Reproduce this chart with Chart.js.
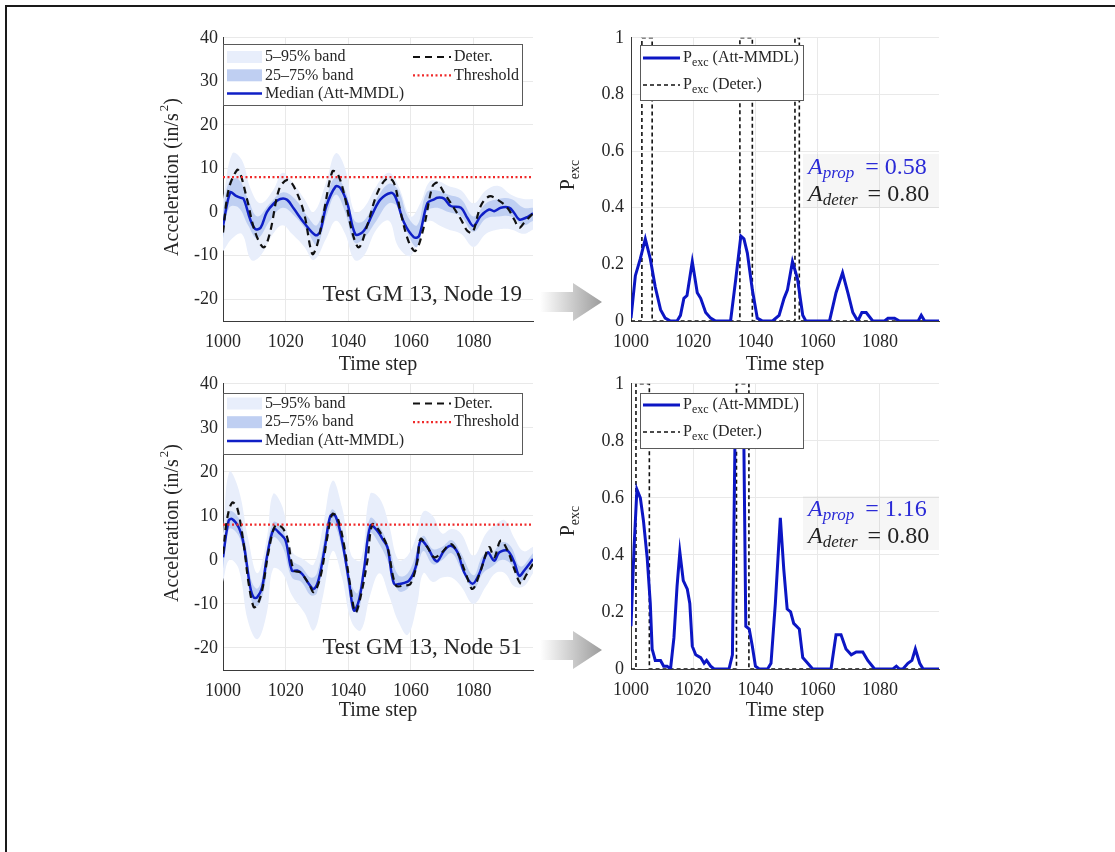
<!DOCTYPE html>
<html>
<head>
<meta charset="utf-8">
<script src="https://cdn.jsdelivr.net/npm/chart.js@4.4.0/dist/chart.umd.min.js"></script>
<style>
  body { margin: 0; background: #fff; width: 1115px; height: 852px; overflow: hidden; position: relative; }
  #frame { position: absolute; left: 5px; top: 5px; width: 1200px; height: 900px; border-left: 2px solid #1a1a1a; border-top: 2px solid #1a1a1a; }
  canvas { position: absolute; }
  svg.arrow { position: absolute; pointer-events: none; }
</style>
</head>
<body>
<div id="frame"></div>
<canvas id="tl" width="410" height="370" style="left:140px;top:22px"></canvas>
<canvas id="tr" width="400" height="370" style="left:555px;top:20px"></canvas>
<canvas id="bl" width="410" height="370" style="left:140px;top:368px"></canvas>
<canvas id="br" width="400" height="370" style="left:555px;top:366px"></canvas>
<svg class="arrow" style="left:535px;top:278px" width="75" height="50">
  <defs><linearGradient id="ag1" x1="0" x2="1"><stop offset="0" stop-color="#fff"/><stop offset="1" stop-color="#9c9c9c"/></linearGradient></defs>
  <polygon points="5,14 38,14 38,5 67,24 38,43 38,34 5,34" fill="url(#ag1)"/>
</svg>
<svg class="arrow" style="left:535px;top:626px" width="75" height="50">
  <defs><linearGradient id="ag2" x1="0" x2="1"><stop offset="0" stop-color="#fff"/><stop offset="1" stop-color="#9c9c9c"/></linearGradient></defs>
  <polygon points="5,14 38,14 38,5 67,24 38,43 38,34 5,34" fill="url(#ag2)"/>
</svg>
<script>
// ---- data ----
const thresholdX = [1000, 1099];
const thresholdY = [8, 8];

// Node 19 (top left)
const n19MedX = [1000,1002.3,1004,1005.5,1006.6,1008.7,1010.3,1012,1014,1016,1018.3,1020.5,1022.6,1025.8,1029.5,1031,1033,1036,1037.5,1039.7,1042.3,1045,1048,1050.3,1053.5,1055,1057.8,1061,1062.6,1065.3,1067.4,1068.5,1070.6,1072.7,1076,1078,1080,1082.3,1085,1086.6,1088.7,1091.4,1093,1094.6,1096.7,1099];
const n19Med  = [-3.2,4.5,3.8,3.3,3.0,-1.7,-3.9,-3.6,0,1.8,3,2.8,0.8,-2.4,-5.3,-4.5,1.4,5.9,5.5,2,-5.1,-4.3,0,2.9,4.4,3.6,-2.4,-5.8,-5.5,2.1,2.9,3.3,3.1,1.4,1,-1.3,-3.2,-0.9,0.6,0.2,1,1,-0.2,-1.7,-1.3,-0.3];
const n19DetX = [1000,1001.8,1004.5,1005.5,1007.7,1010.3,1013,1015,1017.9,1020.5,1022.6,1025.8,1028.5,1030,1032.2,1034.9,1036.5,1038.6,1041.3,1043.4,1046,1049.3,1052.5,1054.6,1056.7,1059.4,1061.5,1064.2,1066.9,1068.5,1070.6,1072.7,1076,1078,1079.7,1082.3,1085,1087.6,1090.8,1093,1094.6,1096.2,1099];
const n19Det  = [-4.7,5.2,9.7,8.9,2.9,-4.7,-8.1,-4.7,5.2,7.4,5.9,0,-9.6,-7.7,0,9.3,8.9,4.4,-4.7,-8.1,-3.2,4.4,7.8,6.7,0,-7,-8.9,-3.2,5.9,6.7,4.4,2.1,-1.7,-4.3,-4.7,1.4,3.6,2.9,1,-1.7,-3.6,-2.4,-0.3];
const n19B25X = [1000,1002,1005,1008,1011,1015,1019,1023,1027,1030,1033,1036,1039,1042,1045,1049,1053,1056,1059,1062,1065,1068,1072,1076,1080,1084,1088,1092,1096,1099];
const n19B25Hi = [0,7,7.5,3,-1,2,4.5,3,-1,-3,3.5,8,5,-2,-2,3,6.5,5,-1,-3,4.5,5,4,3,-1,2,3,3,1,1];
const n19B25Lo = [-6,1,1,-3,-6,-2,1,-1,-4.5,-7.5,-1,4,0,-7,-6,-2,2,1,-5,-8,0,1,0,-1,-4.5,-1.5,-1,-1,-3,-2];
const n19B5X  = [1000,1003,1006,1009,1012,1016,1019,1022,1026,1029,1033,1036,1039,1042,1045,1049,1053,1056,1060,1063,1066,1069,1072,1076,1080,1084,1088,1092,1096,1099];
const n19B5Hi = [3,13.5,12,5,2,5,9,7,3,0,7,13.5,10,0,1,6,9,6,-1,2,7,7,6,5,2,5,6,4,3,3];
const n19B5Lo = [-9,-6,-5,-11,-10,-5,-3,-5,-8,-11,-6,-2,-5,-11,-10,-4,-2,-8,-10,-4,-2,-3,-4,-5,-8,-5,-4,-4,-5,-4];

// Node 51 (bottom left)
const n51MedX = [1000,1001.8,1002.9,1005,1006.6,1008.7,1009.8,1010.9,1012.5,1014,1016.2,1018.3,1020,1022,1023.7,1025.3,1027.4,1029,1030.6,1032.7,1034.3,1035.9,1038,1040.2,1041.8,1043.4,1045,1047.1,1049.3,1050.9,1052.5,1054.6,1056.7,1059.4,1061.5,1063.1,1065.3,1067.4,1068.5,1070.6,1072.7,1074.9,1077,1079.7,1081.8,1084.5,1086.6,1088.2,1090.9,1093,1094.6,1096.2,1099];
const n51Med  = [0.6,8.9,9.3,7.4,3.6,-6.2,-8.5,-8.5,-6.2,0.6,7,5.9,4.4,-2.4,-2.4,-3.2,-5.4,-6.6,-4.3,3.6,10,10,4.4,-4.7,-11.5,-9.2,-2.4,7.8,6.6,4.8,2.9,-5.4,-5.4,-4.7,-1.7,4.4,2.9,0.2,-0.3,2.1,3.2,1.7,-2.8,-5.4,-3.2,1.7,-0.2,1.7,2.1,-0.5,-3.6,-2.4,0.2];
const n51DetX = [1000,1001.3,1002.9,1004.5,1006.6,1008.2,1009.8,1010.9,1012.5,1014.6,1016.7,1018.8,1020.5,1022.6,1024.7,1027.4,1029,1031.1,1033.3,1034.9,1036.5,1038.6,1040.7,1042.3,1043.9,1046.1,1047.7,1049.9,1052.5,1055.2,1057.8,1059.9,1062.1,1063.1,1065.3,1067.4,1069.5,1072.7,1074.9,1077.6,1079.7,1082.3,1085,1086.6,1088.7,1090.9,1093,1095.1,1096.7,1099];
const n51Det  = [1.4,9.3,13,11.9,3.6,-5.4,-10.7,-10.3,-6.9,2.1,7.8,7.4,5.1,-2.4,-2.8,-5.4,-7.3,-3.9,5.1,10.4,9.7,3.6,-6.2,-11.9,-8.5,-0.2,8.1,6.6,2.9,-5.8,-5.8,-5.4,-0.2,4.8,2.9,0.6,1.4,3.6,1.7,-3.2,-6.6,-2.4,2.9,0.6,4.4,2.1,-2,-5.4,-3.6,-0.9];
const n51B25X = [1000,1002,1005,1007,1009,1011,1013,1016,1019,1022,1025,1028,1030,1033,1035,1038,1041,1043,1045,1047,1050,1053,1056,1059,1062,1064,1067,1070,1073,1076,1080,1083,1086,1089,1092,1095,1099];
const n51B25Hi = [2.5,11,9.5,4.5,-4.5,-6.5,-2.5,8.5,7,0,-1.5,-4,-3,7,11.5,6.5,-5.5,-7.5,0,9.5,7.5,3,-3.5,-3,2,5.5,2.5,3,4.5,1.5,-3.5,1,1.5,4,3,-1.5,1.5];
const n51B25Lo = [-2,7,5.5,0,-9,-10.5,-7,5,3,-4,-5,-8,-7.5,3,8.5,2.5,-10,-12,-4.5,6,3.5,-1,-7,-6.5,-2,2,-1,0,1.5,-2,-6.5,-3,-1.5,0,-1,-5,-1];
const n51B5X  = [1000,1002,1005,1008,1011,1014,1016,1019,1022,1026,1029,1032,1035,1038,1041,1044,1047,1050,1053,1056,1059,1062,1064,1067,1070,1073,1076,1080,1084,1087,1090,1093,1096,1099];
const n51B5Hi = [6,20,16,5,-3,5,15,12,2,0,-1,8,18,12,1,0,15,14,8,0,1,6,11,10,6,7,6,1,6,8,9,5,2,3];
const n51B5Lo = [-5,0,-2,-14,-18,-12,-2,-3,-8,-12,-16,-8,2,-4,-14,-16,-8,-3,-8,-14,-17,-10,-3,-5,-4,-4,-6,-10,-6,-3,-3,-6,-6,-3];

// exceedance probability (right column)
const p19X = [1000,1001.4,1003,1004.6,1006.2,1007.8,1009.5,1011,1012.7,1014.8,1015.9,1017,1018,1019.7,1021.3,1022.4,1024,1025.6,1027.2,1032,1033.7,1035.3,1036.3,1037.4,1039,1040.6,1042.3,1045.5,1047.6,1049.2,1050.3,1051.9,1053.5,1055.2,1056.2,1063.8,1065.9,1068,1069.7,1071.3,1072.9,1074.2,1075.6,1077.7,1081.5,1082.6,1084.7,1086.3,1092.3,1093.3,1094.4,1099];
const p19  = [0.01,0.16,0.22,0.29,0.22,0.12,0.04,0.01,0,0,0.02,0.08,0.09,0.21,0.1,0.08,0.03,0.01,0,0,0.15,0.3,0.29,0.24,0.11,0.01,0,0,0.02,0.08,0.11,0.21,0.15,0.02,0,0,0.1,0.17,0.1,0.03,0,0.03,0.03,0,0,0.01,0.01,0,0,0.02,0,0];
const p19DetX = [1000,1003.5,1003.5,1006.8,1006.8,1035,1035,1039,1039,1052.7,1052.7,1054.1,1054.1,1099];
const p19Det  = [0,0,1,1,0,0,1,1,0,0,1,1,0,0];
const p51X = [1000,1001,1001.9,1003,1004,1005.2,1006.2,1006.8,1007.8,1009.5,1010.5,1011.6,1012.7,1013.8,1014.8,1015.7,1016.8,1018.1,1018.9,1019.7,1020.8,1022.4,1023.5,1024.3,1025.6,1026.7,1031.5,1032.6,1033.4,1034.4,1035.4,1036.3,1036.9,1038,1039,1040,1041.2,1043.9,1045,1046.4,1048,1049.1,1050.2,1051.3,1052.3,1054.1,1055.2,1056.8,1058.4,1064.3,1065.9,1067.5,1069.1,1070.8,1072.4,1074.5,1076.1,1078.3,1084.2,1085.3,1086.3,1087.4,1089,1090.3,1091.4,1092.8,1093.9,1099];
const p51  = [0.15,0.43,0.63,0.6,0.52,0.39,0.23,0.07,0.03,0.03,0.01,0.01,0,0.11,0.29,0.41,0.31,0.28,0.23,0.08,0.05,0.04,0.02,0.03,0.01,0,0,0.05,0.78,0.95,0.95,0.77,0.15,0.14,0.08,0.01,0,0,0.02,0.23,0.53,0.35,0.21,0.2,0.16,0.14,0.04,0.02,0,0,0.12,0.12,0.07,0.05,0.06,0.06,0.03,0,0,0.01,0,0,0.02,0.03,0.07,0.02,0,0];
const p51DetX = [1000,1001.6,1001.6,1005.9,1005.9,1033.9,1033.9,1037.9,1037.9,1099];
const p51Det  = [0,0,1,1,0,0,1,1,0,0];

const xTicks = [1000, 1020, 1040, 1060, 1080];

// ---- style ----
const SERIF = '"Liberation Serif", "Times New Roman", serif';
const INK = '#262626';
const GRID = '#e9e9e9';
const BLUE = '#0f1fc6';
const PBLUE = '#0c16c4';
const BAND25 = '#bfcff2';
const BAND5 = '#e8eefb';
const RED = '#f02a2a';

function pts(xs, ys) {
  return xs.map((x, i) => ({ x: x, y: ys[i] }));
}

function line(xs, ys, extra) {
  return Object.assign({
    data: pts(xs, ys), pointRadius: 0, borderWidth: 0, fill: false, tension: 0
  }, extra);
}

function drawRuns(ctx, item) {
  ctx.save();
  ctx.translate(item.x, item.y);
  if (item.rotate) ctx.rotate(-Math.PI / 2);
  let w = 0;
  const parts = item.runs.map(r => {
    const size = r.size || item.size;
    const font = (r.italic ? 'italic ' : '') + size + 'px ' + SERIF;
    ctx.font = font;
    const pw = ctx.measureText(r.t).width + (r.gap || 0);
    w += pw;
    return { r: r, font: font, pw: pw };
  });
  let x0 = item.align === 'right' ? -w : item.align === 'center' ? -w / 2 : 0;
  ctx.textBaseline = 'middle';
  ctx.textAlign = 'left';
  for (const p of parts) {
    ctx.font = p.font;
    ctx.fillStyle = p.r.color || item.color || INK;
    ctx.fillText(p.r.t, x0, p.r.dy || 0);
    x0 += p.pw;
  }
  ctx.restore();
}

function drawLegend(ctx, lg) {
  ctx.save();
  const b = lg.box;
  ctx.fillStyle = '#fff';
  ctx.fillRect(b[0], b[1], b[2], b[3]);
  ctx.strokeStyle = '#5a5a5a';
  ctx.lineWidth = 1;
  ctx.strokeRect(b[0] + 0.5, b[1] + 0.5, b[2], b[3]);
  for (const it of lg.items) {
    if (it.fill) {
      ctx.fillStyle = it.fill;
      ctx.fillRect(it.x, it.y - 6, it.len, 12);
    } else {
      ctx.strokeStyle = it.stroke;
      ctx.lineWidth = it.width;
      ctx.setLineDash(it.dash || []);
      ctx.beginPath();
      ctx.moveTo(it.x, it.y);
      ctx.lineTo(it.x + it.len, it.y);
      ctx.stroke();
      ctx.setLineDash([]);
    }
    drawRuns(ctx, { x: it.x + it.len + 3, y: it.y, runs: it.runs, size: 16, align: 'left' });
  }
  ctx.restore();
}

// legend, annotation and axis titles painted on top of the plot
function overlay(cfg) {
  return {
    id: 'overlay',
    afterDatasetsDraw(chart) {
      const ctx = chart.ctx;
      if (cfg.shade) {
        ctx.fillStyle = 'rgba(0,0,0,0.035)';
        ctx.fillRect(cfg.shade[0], cfg.shade[1], cfg.shade[2], cfg.shade[3]);
      }
      if (cfg.legend) drawLegend(ctx, cfg.legend);
      cfg.texts.forEach(t => drawRuns(ctx, t));
    }
  };
}

function scales(o) {
  return {
    x: {
      type: 'linear', min: 1000, max: 1099,
      afterFit: s => { s.height = o.xh; },
      afterBuildTicks: s => { s.ticks = xTicks.map(v => ({ value: v })); },
      ticks: { padding: 10, maxRotation: 0, autoSkip: false, color: INK, font: { family: SERIF, size: 18 }, callback: v => String(v) },
      grid: { color: GRID, drawTicks: false },
      border: { color: '#3a3a3a', width: 1 }
    },
    y: {
      type: 'linear', min: o.ymin, max: o.ymax,
      afterFit: s => { s.width = o.yw; },
      ticks: { stepSize: o.step, includeBounds: false, padding: o.ypad, color: INK, font: { family: SERIF, size: 18 }, callback: v => String(Math.round(v * 10) / 10) },
      grid: { color: GRID, drawTicks: false },
      border: { color: '#3a3a3a', width: 1 }
    }
  };
}

function baseOptions(o) {
  return {
    responsive: false, animation: false, devicePixelRatio: 1, events: [],
    layout: { padding: { top: o.top, right: o.right, left: 0, bottom: 0 } },
    plugins: { legend: { display: false }, tooltip: { enabled: false } },
    scales: scales(o)
  };
}

function accelDatasets(medX, med, detX, det, b25X, b25Lo, b25Hi, b5X, b5Lo, b5Hi) {
  return [
    line(thresholdX, thresholdY, { borderColor: RED, borderWidth: 2.2, borderDash: [2, 2.5] }),
    line(detX, det, { borderColor: '#111', borderWidth: 2.2, borderDash: [7, 5], tension: 0.35 }),
    line(medX, med, { borderColor: BLUE, borderWidth: 2.5, tension: 0.35 }),
    line(b25X, b25Lo, { tension: 0.4 }),
    line(b25X, b25Hi, { tension: 0.4, fill: 3, backgroundColor: BAND25 }),
    line(b5X, b5Lo, { tension: 0.4 }),
    line(b5X, b5Hi, { tension: 0.4, fill: 5, backgroundColor: BAND5 })
  ];
}

function accelLegend(y0, dy, top) {
  return {
    box: [83, top, 299, 61],
    items: [
      { x: 87, y: y0, len: 35, fill: BAND5, runs: [{ t: '5\u201395% band' }] },
      { x: 87, y: y0 + dy, len: 35, fill: BAND25, runs: [{ t: '25\u201375% band' }] },
      { x: 87, y: y0 + 2 * dy, len: 35, stroke: BLUE, width: 2.5, runs: [{ t: 'Median (Att-MMDL)' }] },
      { x: 273, y: y0, len: 38, stroke: '#111', width: 2.2, dash: [7, 5], runs: [{ t: 'Deter.' }] },
      { x: 273, y: y0 + dy, len: 38, stroke: RED, width: 2.2, dash: [2, 2.5], runs: [{ t: 'Threshold' }] }
    ]
  };
}

function accelTexts(label, labelY) {
  return [
    { x: 33, y: 155, rotate: true, align: 'center', size: 20,
      runs: [{ t: 'Acceleration (in/s', gap: 2 }, { t: '2', size: 13, dy: -8 }, { t: ')' }] },
    { x: 238, y: 343, align: 'center', size: 20, runs: [{ t: 'Time step' }] },
    { x: 382, y: labelY, align: 'right', size: 23, runs: [{ t: label }] }
  ];
}

function probLegend(y0, dy, top) {
  return {
    box: [85, top, 163, 55],
    items: [
      { x: 88, y: y0, len: 37, stroke: PBLUE, width: 3, runs: [{ t: 'P' }, { t: 'exc', size: 12, dy: 5 }, { t: ' (Att-MMDL)' }] },
      { x: 88, y: y0 + dy, len: 37, stroke: '#111', width: 1.6, dash: [4, 3], runs: [{ t: 'P' }, { t: 'exc', size: 12, dy: 5 }, { t: ' (Deter.)' }] }
    ]
  };
}

function probTexts(aProp, y0) {
  return [
    { x: 14, y: 155, rotate: true, align: 'center', size: 20, runs: [{ t: 'P' }, { t: 'exc', size: 14, dy: 6 }] },
    { x: 230, y: 345, align: 'center', size: 20, runs: [{ t: 'Time step' }] },
    { x: 253, y: y0, align: 'left', size: 24, color: '#2a2ad6',
      runs: [{ t: 'A', italic: true }, { t: 'prop', italic: true, size: 17, dy: 6, gap: 11 }, { t: '= ' + aProp }] },
    { x: 253, y: y0 + 27, align: 'left', size: 24, color: '#222',
      runs: [{ t: 'A', italic: true }, { t: 'deter', italic: true, size: 17, dy: 6, gap: 10 }, { t: '= 0.80' }] }
  ];
}

function probDatasets(xs, ys, dx, dy) {
  return [
    line(xs, ys, { borderColor: PBLUE, borderWidth: 3 }),
    line(dx, dy, { borderColor: '#111', borderWidth: 1.6, borderDash: [4, 3] })
  ];
}

new Chart(document.getElementById('tl'), {
  type: 'line',
  data: { datasets: accelDatasets(n19MedX, n19Med, n19DetX, n19Det, n19B25X, n19B25Lo, n19B25Hi, n19B5X, n19B5Lo, n19B5Hi) },
  options: baseOptions({ top: 15, right: 17, xh: 71, yw: 83, ymin: -25, ymax: 40, step: 10, ypad: 5 }),
  plugins: [overlay({ legend: accelLegend(35, 18.3, 22), texts: accelTexts('Test GM 13, Node 19', 273) })]
});

new Chart(document.getElementById('bl'), {
  type: 'line',
  data: { datasets: accelDatasets(n51MedX, n51Med, n51DetX, n51Det, n51B25X, n51B25Lo, n51B25Hi, n51B5X, n51B5Lo, n51B5Hi) },
  options: baseOptions({ top: 15, right: 17, xh: 68, yw: 83, ymin: -25, ymax: 40, step: 10, ypad: 5 }),
  plugins: [overlay({ legend: accelLegend(35.5, 18.7, 25), texts: accelTexts('Test GM 13, Node 51', 280) })]
});

new Chart(document.getElementById('tr'), {
  type: 'line',
  data: { datasets: probDatasets(p19X, p19, p19DetX, p19Det) },
  options: baseOptions({ top: 15, right: 16, xh: 69, yw: 76, ymin: 0, ymax: 1, step: 0.2, ypad: 7 }),
  plugins: [overlay({ shade: [248, 134, 136, 54], legend: probLegend(38, 27, 25), texts: probTexts('0.58', 148) })]
});

new Chart(document.getElementById('br'), {
  type: 'line',
  data: { datasets: probDatasets(p51X, p51, p51DetX, p51Det) },
  options: baseOptions({ top: 16, right: 16, xh: 67, yw: 76, ymin: 0, ymax: 1, step: 0.2, ypad: 7 }),
  plugins: [overlay({ shade: [248, 130, 136, 54], legend: probLegend(39, 27, 27), texts: probTexts('1.16', 144) })]
});
</script>
</body>
</html>
